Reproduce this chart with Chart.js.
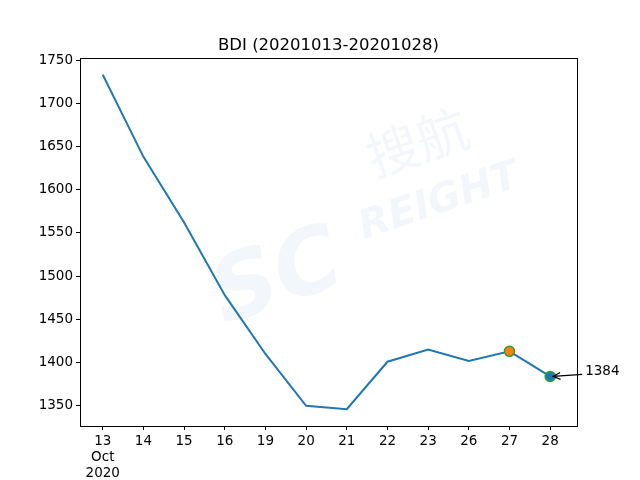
<!DOCTYPE html>
<html>
<head>
<meta charset="utf-8">
<script src="https://cdn.jsdelivr.net/npm/chart.js@4"></script>
<style>
  html, body { margin: 0; padding: 0; background: #fff; }
  #wrap { width: 640px; height: 480px; }
</style>
</head>
<body>
<div id="wrap"><canvas id="LineChart" width="640" height="480"></canvas></div>
<script>
const days = ["13", "14", "15", "16", "19", "20", "21", "22", "23", "26", "27", "28"];
const bdi = [1733, 1638, 1562, 1478, 1410, 1350, 1346, 1401, 1415, 1402, 1413, 1384];
const yTicks = [1350, 1400, 1450, 1500, 1550, 1600, 1650, 1700, 1750];
const markIdx = [10, 11];
const markFill = ["#ff7f0e", "#1f77b4"];
const titleText = "BDI (20201013-20201028)";

const FONT = "'DejaVu Sans', sans-serif";
const lineCTX = document.getElementById("LineChart").getContext("2d");

const lo = Math.min(...bdi), hi = Math.max(...bdi);
const yMargin = (hi - lo) * 0.05;

const extras = {
  id: "extras",
  beforeDatasetsDraw(chart) {
    const ctx = chart.ctx;
    // faint watermark
    ctx.save();
    ctx.fillStyle = "#f3f7fc";
    ctx.translate(340, 200);
    ctx.rotate(-0.33);
    ctx.font = "bold italic 90px " + FONT;
    ctx.fillText("SC", -150, 80);
    ctx.font = "52px 'Noto Sans CJK SC'";
    ctx.fillText("搜航", 40, -10);
    ctx.font = "bold italic 40px " + FONT;
    ctx.fillText("REIGHT", 10, 45);
    ctx.restore();
  },
  afterDraw(chart) {
    const ctx = chart.ctx;
    const a = chart.chartArea;
    ctx.save();
    ctx.strokeStyle = "#000";
    ctx.lineWidth = 1;
    ctx.strokeRect(a.left + 0.5, a.top + 0.5, a.right - a.left, a.bottom - a.top);
    // title
    ctx.fillStyle = "#000";
    ctx.font = "16.5px " + FONT;
    ctx.textAlign = "center";
    ctx.textBaseline = "alphabetic";
    ctx.fillText(titleText, (a.left + a.right) / 2, a.top - 8);
    // annotation of last value
    const last = bdi.length - 1;
    const px = chart.scales.x.getPixelForValue(last);
    const py = chart.scales.y.getPixelForValue(bdi[last]);
    const tx = px + 35, ty = py - 5;
    ctx.font = "13.5px " + FONT;
    ctx.textAlign = "left";
    ctx.textBaseline = "middle";
    ctx.fillText(String(bdi[last]), tx, ty);
    const sx = tx - 3, sy = ty + 3;
    const ex = px + 3, ey = py;
    ctx.beginPath();
    ctx.moveTo(sx, sy);
    ctx.lineTo(ex, ey);
    const ang = Math.atan2(ey - sy, ex - sx);
    ctx.moveTo(ex - 8 * Math.cos(ang - 0.45), ey - 8 * Math.sin(ang - 0.45));
    ctx.lineTo(ex, ey);
    ctx.lineTo(ex - 8 * Math.cos(ang + 0.45), ey - 8 * Math.sin(ang + 0.45));
    ctx.lineWidth = 1.2;
    ctx.stroke();
    ctx.restore();
  },
};

const dataLine = {
  datasets: [
    {
      label: "BDI",
      data: bdi.map((v, i) => ({ x: i, y: v })),
      borderColor: "#1f77b4",
      borderWidth: 2,
      pointRadius: 0,
      tension: 0,
      order: 2,
    },
    {
      label: "mark",
      data: markIdx.map(i => ({ x: i, y: bdi[i] })),
      showLine: false,
      pointRadius: 5,
      pointBackgroundColor: markFill,
      pointBorderColor: "#2ca02c",
      pointBorderWidth: 1.5,
      order: 1,
    },
  ],
};

const configLine = {
  type: "line",
  data: dataLine,
  options: {
    responsive: false,
    animation: false,
    layout: { padding: { top: 58, right: 63, left: 0, bottom: 0 } },
    plugins: {
      legend: { display: false },
      title: { display: false },
      tooltip: { enabled: false },
    },
    scales: {
      x: {
        type: "linear",
        min: -0.56,
        max: days.length - 1 + 0.66,
        afterBuildTicks: s => { s.ticks = days.map((d, i) => ({ value: i })); },
        afterFit: s => { s.height = 54; },
        grid: { display: true, drawOnChartArea: false, drawTicks: true, tickLength: 4, color: "#000" },
        border: { display: true, color: "#000" },
        ticks: {
          autoSkip: false,
          maxRotation: 0,
          padding: 3,
          color: "#000",
          font: { family: FONT, size: 13.5 },
          callback: v => (v === 0 ? [days[0], "Oct", "2020"] : days[v]),
        },
      },
      y: {
        min: lo - yMargin,
        max: hi + yMargin,
        afterBuildTicks: s => { s.ticks = yTicks.map(v => ({ value: v })); },
        afterFit: s => { s.width = 80; },
        grid: { display: true, drawOnChartArea: false, drawTicks: true, tickLength: 4, color: "#000" },
        border: { display: true, color: "#000" },
        ticks: {
          padding: 3,
          color: "#000",
          font: { family: FONT, size: 13.5 },
          callback: v => String(v),
        },
      },
    },
  },
  plugins: [extras],
};

const myLineChart = new Chart(lineCTX, configLine);
</script>
</body>
</html>
